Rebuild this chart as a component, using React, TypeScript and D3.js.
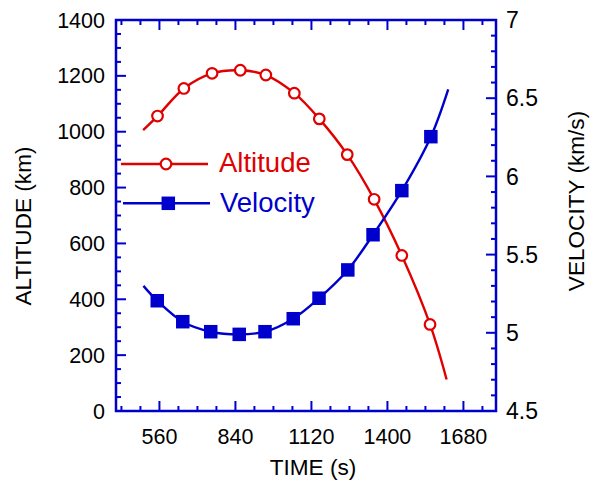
import React from "react";
import * as d3 from "d3";

// ---- data ----
const altTimes = [500, 553, 650, 754, 858, 952, 1057, 1149, 1252, 1351, 1453, 1557, 1618];
const altValues = [1006, 1056, 1155, 1209, 1220, 1203, 1138, 1046, 918, 758, 557, 310, 113];
const velTimes = [501, 552, 646, 749, 854, 949, 1053, 1148, 1254, 1347, 1453, 1560, 1624];
const velValues = [5.3, 5.205, 5.071, 5.007, 4.99, 5.007, 5.09, 5.221, 5.402, 5.627, 5.909, 6.254, 6.557];

const xTicks = [560, 840, 1120, 1400, 1680];
const altTicks = [0, 200, 400, 600, 800, 1000, 1200, 1400];
const velTicks = [4.5, 5, 5.5, 6, 6.5, 7];
const velTickLabels = ["4.5", "5", "5.5", "6", "6.5", "7"];

const W = 590;
const H = 482;
const L = 116, R = 496, T = 20, B = 411;
const BLUE = "#0000cc";
const RED = "#e00000";
const FONT = "'Liberation Sans', Arial, sans-serif";

export default function App() {
  const x = d3.scaleLinear().domain([400, 1800]).range([L, R]);
  const yA = d3.scaleLinear().domain([0, 1400]).range([B, T]);
  const yV = d3.scaleLinear().domain([4.5, 7]).range([B, T]);

  const xMinor = d3.range(420, 1800, 70).filter((t) => !xTicks.includes(t));
  const aMinor = d3.range(50, 1400, 50).filter((v) => v % 200 !== 0);
  const vMinor = d3.range(46, 70, 1).map((v) => v / 10).filter((v) => Math.round(v * 10) % 5 !== 0);

  const altPts: [number, number][] = altTimes.map((t, i) => [x(t), yA(altValues[i])]);
  const velPts: [number, number][] = velTimes.map((t, i) => [x(t), yV(velValues[i])]);
  const line = d3.line().curve(d3.curveCatmullRom.alpha(0.5));

  const sq = 13.5;

  return (
    <svg width={W} height={H} style={{ position: "absolute", left: 0, top: 0 }} fontFamily={FONT}>
      <rect width={W} height={H} fill="#fff" />
      {/* ticks */}
      <g stroke={BLUE} strokeWidth={2}>
        {xTicks.map((t) => (
          <g key={"xt" + t}>
            <line x1={x(t)} x2={x(t)} y1={B} y2={B - 10} />
            <line x1={x(t)} x2={x(t)} y1={T} y2={T + 10} />
          </g>
        ))}
        {xMinor.map((t) => (
          <g key={"xm" + t}>
            <line x1={x(t)} x2={x(t)} y1={B} y2={B - 5} />
            <line x1={x(t)} x2={x(t)} y1={T} y2={T + 5} />
          </g>
        ))}
        {altTicks.map((v) => (
          <line key={"at" + v} x1={L} x2={L + 10} y1={yA(v)} y2={yA(v)} />
        ))}
        {aMinor.map((v) => (
          <line key={"am" + v} x1={L} x2={L + 5} y1={yA(v)} y2={yA(v)} />
        ))}
        {velTicks.map((v) => (
          <line key={"vt" + v} x1={R} x2={R - 10} y1={yV(v)} y2={yV(v)} />
        ))}
        {vMinor.map((v) => (
          <line key={"vm" + v} x1={R} x2={R - 5} y1={yV(v)} y2={yV(v)} />
        ))}
      </g>
      <rect x={L} y={T} width={R - L} height={B - T} fill="none" stroke={BLUE} strokeWidth={2.5} />

      {/* tick labels */}
      <g fontSize={21.5} fill="#000">
        {altTicks.map((v) => (
          <text key={"al" + v} x={105} y={yA(v)} dy="0.35em" textAnchor="end">
            {v}
          </text>
        ))}
        {xTicks.map((t) => (
          <text key={"xl" + t} x={x(t)} y={444} textAnchor="middle">
            {t}
          </text>
        ))}
      </g>
      <g fontSize={23} fill="#000">
        {velTicks.map((v, i) => (
          <text key={"vl" + v} x={506} y={yV(v)} dy="0.36em" textAnchor="start">
            {velTickLabels[i]}
          </text>
        ))}
      </g>

      {/* axis titles */}
      <text x={313} y={475} textAnchor="middle" fontSize={22.6}>
        TIME (s)
      </text>
      <text transform="translate(23,226) rotate(-90)" textAnchor="middle" dy="0.36em" fontSize={22.6}>
        ALTITUDE (km)
      </text>
      <text transform="translate(576,201) rotate(-90)" textAnchor="middle" dy="0.36em" fontSize={22.6}>
        VELOCITY (km/s)
      </text>

      {/* series */}
      <path d={line(altPts) || ""} fill="none" stroke={RED} strokeWidth={2.4} />
      <path d={line(velPts) || ""} fill="none" stroke={BLUE} strokeWidth={2.4} />
      {altPts.slice(1, -1).map(([px, py], i) => (
        <circle key={"ac" + i} cx={px} cy={py} r={5.3} fill="#fff" stroke={RED} strokeWidth={2.2} />
      ))}
      {velPts.slice(1, -1).map(([px, py], i) => (
        <rect key={"vs" + i} x={px - sq / 2} y={py - sq / 2} width={sq} height={sq} fill={BLUE} />
      ))}

      {/* legend */}
      <line x1={121} x2={208} y1={164} y2={164} stroke={RED} strokeWidth={2.4} />
      <circle cx={166} cy={164} r={5.3} fill="#fff" stroke={RED} strokeWidth={2.2} />
      <text x={219} y={171.5} fontSize={27.5} fill={RED}>
        Altitude
      </text>
      <line x1={123} x2={210} y1={203.3} y2={203.3} stroke={BLUE} strokeWidth={2.4} />
      <rect x={168.3 - sq / 2} y={203.3 - sq / 2} width={sq} height={sq} fill={BLUE} />
      <text x={220} y={211.5} fontSize={27.5} fill={BLUE}>
        Velocity
      </text>
    </svg>
  );
}
